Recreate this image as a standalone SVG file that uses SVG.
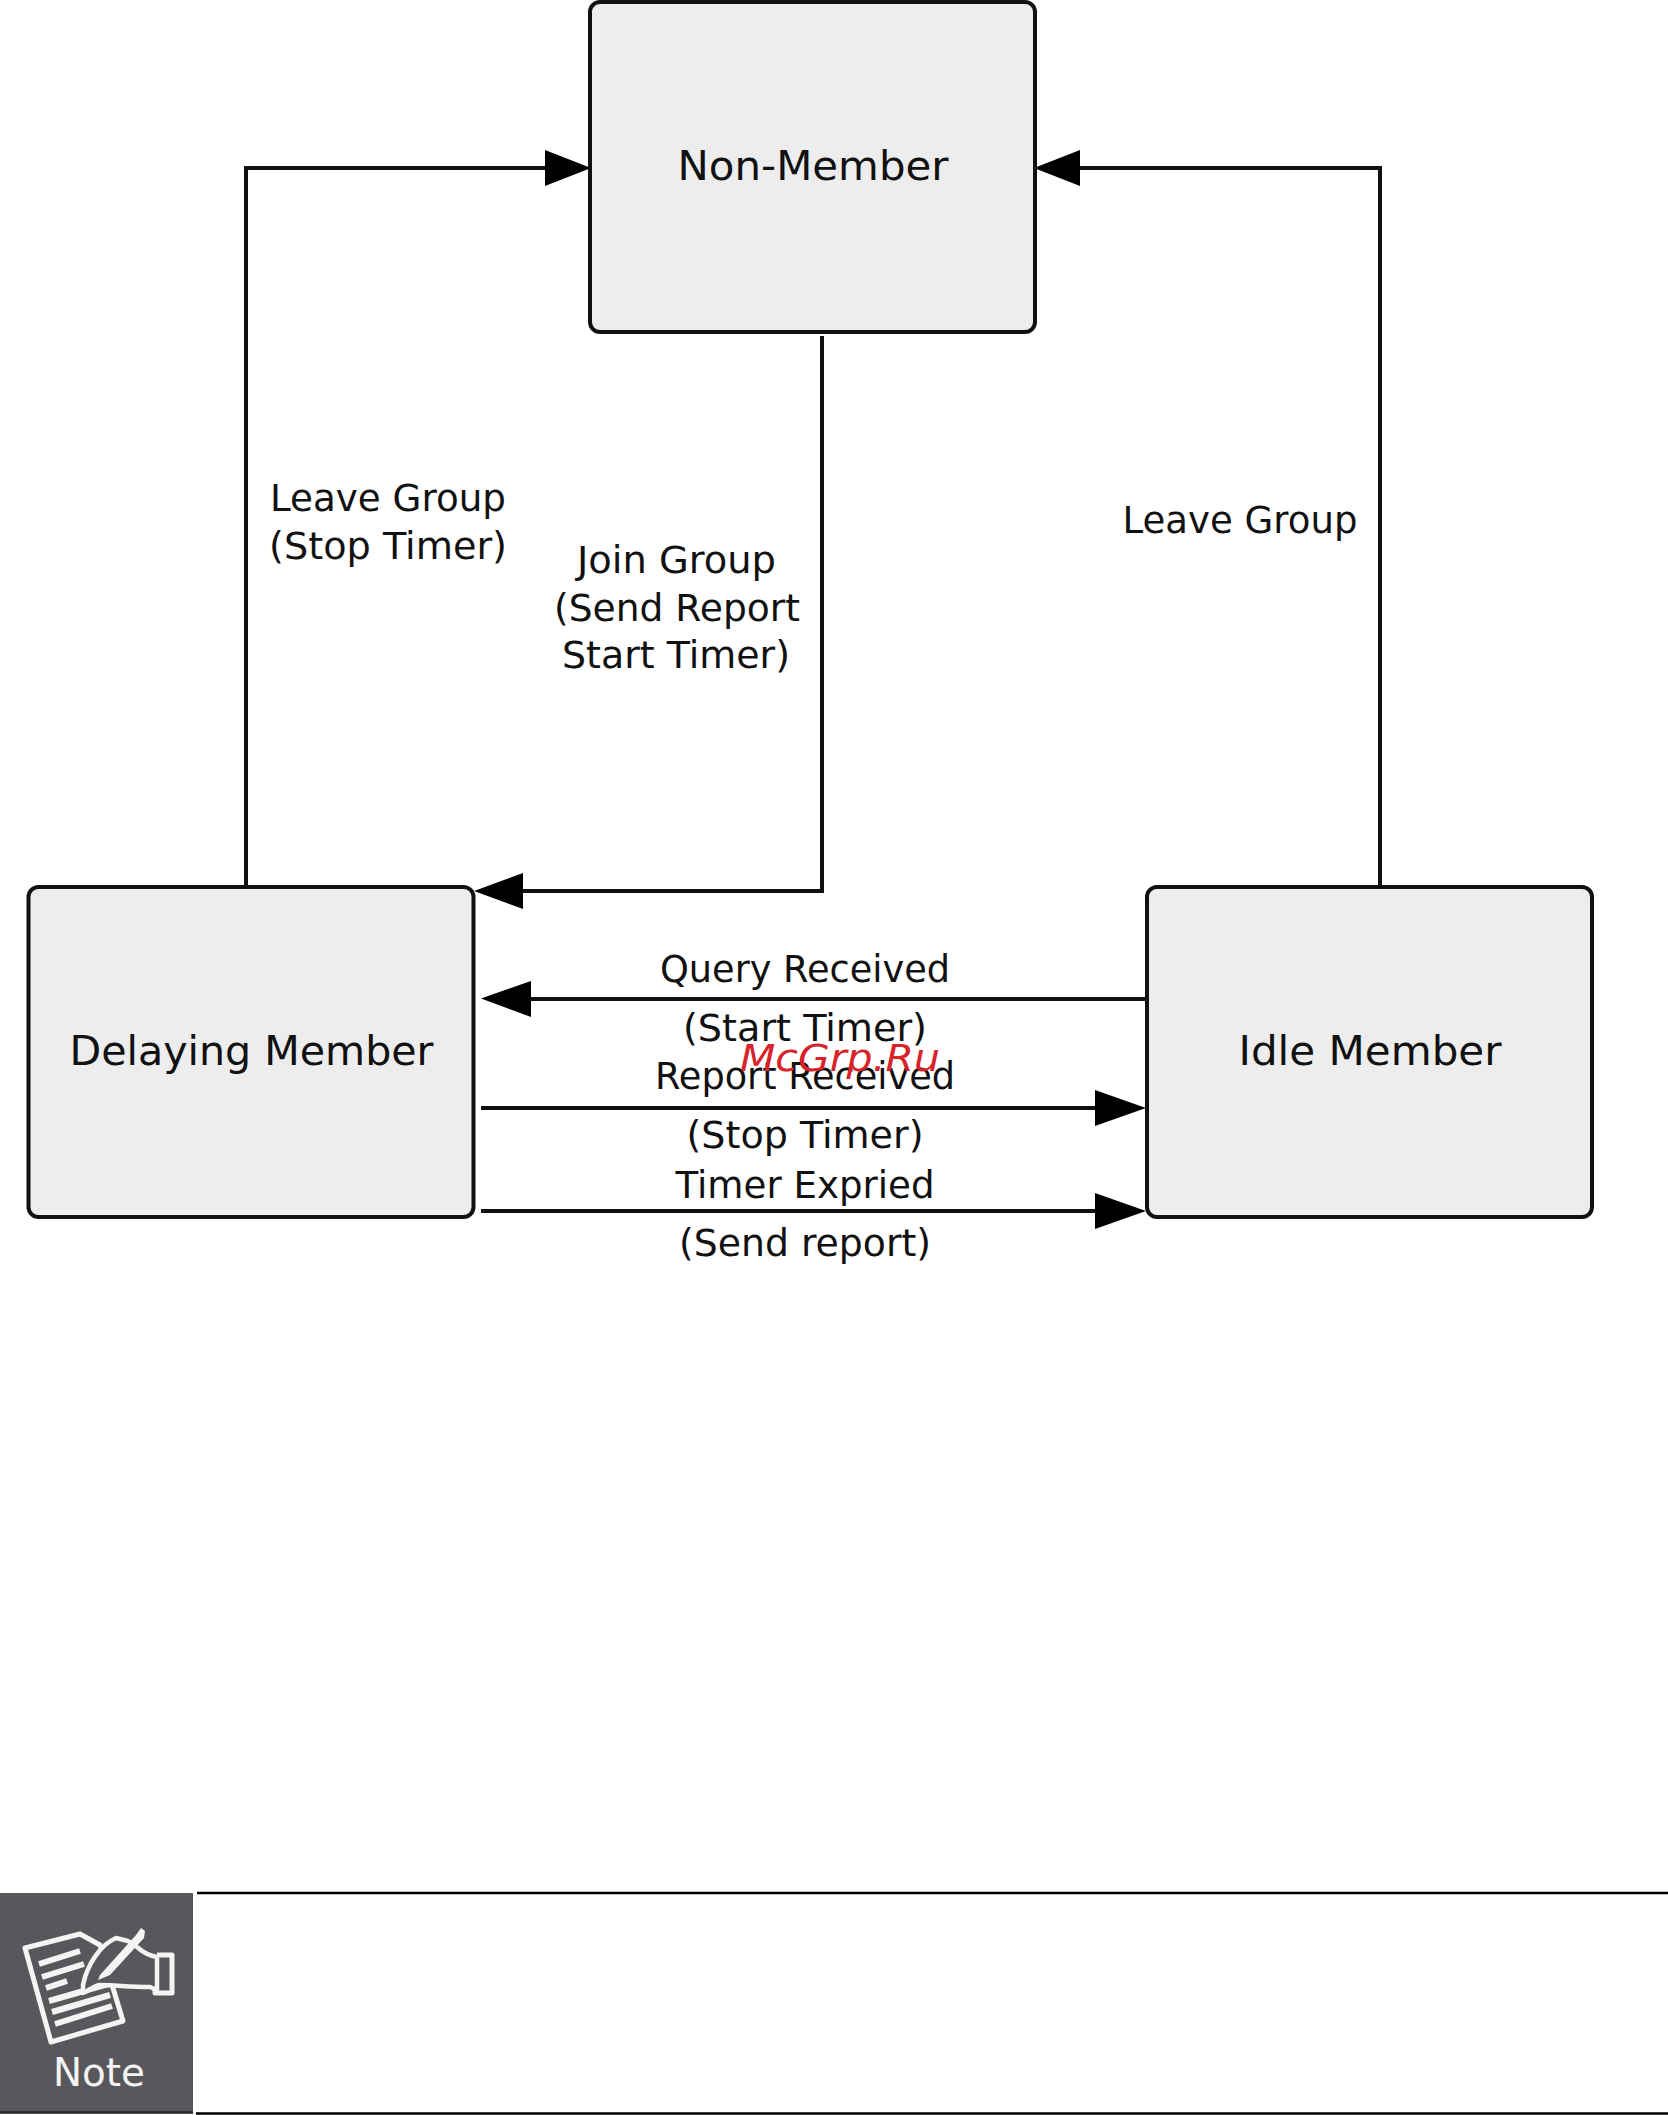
<svg xmlns="http://www.w3.org/2000/svg" width="1668" height="2115" viewBox="0 0 1668 2115">
<defs>
<style>
.box{fill:#ededed;stroke:#111;stroke-width:4}
.c{fill:none;stroke:#111;stroke-width:4}
.a{fill:#000}
text{font-family:"DejaVu Sans","Liberation Sans",sans-serif;fill:#111;text-anchor:middle}
.t{font-size:41px}
.l{font-size:36.500px}
.ic{fill:none;stroke:#f4f4f4;stroke-width:5;stroke-linejoin:round}
.ih{fill:#58585c;stroke:#f4f4f4;stroke-width:4.500;stroke-linejoin:round}
.if{fill:#f4f4f4}
</style>
</defs>
<rect width="1668" height="2115" fill="#fff"/>
<g id="connectors">
<path class="c" d="M246 886V168H545"/>
<path class="a" d="M545 150L591 168L545 186Z"/>
<path class="c" d="M1380 886V168H1080"/>
<path class="a" d="M1080 150L1034 168L1080 186Z"/>
<path class="c" d="M822 336V891H523"/>
<path class="a" d="M523 873L474 891L523 909Z"/>
<path class="c" d="M1146 999H531"/>
<path class="a" d="M531 981L481 998.500L531 1017Z"/>
<path class="c" d="M481 1108H1095"/>
<path class="a" d="M1095 1090L1146 1108L1095 1126Z"/>
<path class="c" d="M481 1211H1095"/>
<path class="a" d="M1095 1193L1146 1211L1095 1229Z"/>
</g>
<g id="non-member"><rect class="box" x="590" y="2" width="445" height="330" rx="10"/><text class="t" x="813" y="180" textLength="271" lengthAdjust="spacingAndGlyphs">Non-Member</text></g>
<g id="delaying-member"><rect class="box" x="28.500" y="887" width="445" height="330" rx="10"/><text class="t" x="251.500" y="1065" textLength="364" lengthAdjust="spacingAndGlyphs">Delaying Member</text></g>
<g id="idle-member"><rect class="box" x="1147" y="887" width="445" height="330" rx="10"/><text class="t" x="1370" y="1065" textLength="263" lengthAdjust="spacingAndGlyphs">Idle Member</text></g>
<g id="labels">
<text class="l" x="388" y="511" textLength="236" lengthAdjust="spacingAndGlyphs">Leave Group</text>
<text class="l" x="388" y="559" textLength="238" lengthAdjust="spacingAndGlyphs">(Stop Timer)</text>
<text class="l" x="676.500" y="573" textLength="199" lengthAdjust="spacingAndGlyphs">Join Group</text>
<text class="l" x="677" y="621" textLength="246" lengthAdjust="spacingAndGlyphs">(Send Report</text>
<text class="l" x="676" y="668" textLength="228" lengthAdjust="spacingAndGlyphs">Start Timer)</text>
<text class="l" x="1240" y="533" textLength="235" lengthAdjust="spacingAndGlyphs">Leave Group</text>
<text class="l" x="805" y="982" textLength="290" lengthAdjust="spacingAndGlyphs">Query Received</text>
<text class="l" x="805" y="1041" textLength="244" lengthAdjust="spacingAndGlyphs">(Start Timer)</text>
<text class="l" x="805" y="1089" textLength="300" lengthAdjust="spacingAndGlyphs">Report Received</text>
<text class="l" x="805" y="1148" textLength="237" lengthAdjust="spacingAndGlyphs">(Stop Timer)</text>
<text class="l" x="805" y="1198" textLength="259" lengthAdjust="spacingAndGlyphs">Timer Expried</text>
<text class="l" x="805" y="1256" textLength="252" lengthAdjust="spacingAndGlyphs">(Send report)</text>
<text x="840" y="1071" textLength="200" lengthAdjust="spacingAndGlyphs" style="font-style:italic;font-size:37px;fill:#d8232a">McGrp.Ru</text>
</g>
<g id="note">
<rect x="0" y="1893" width="193" height="220" fill="#58585c"/>
<path d="M0 2112.500H193" stroke="#26262a" stroke-width="2.500"/>
<path d="M197 1893H1668M196 2113.500H1668" fill="none" stroke="#000" stroke-width="2.500"/>
<path class="ic" d="M25 1948L80 1934L100 1945L123 2021L51 2042Z"/>
<path class="ic" d="M39 1964L80 1951M42 1977L84 1964M46 1988L67 1981M49 2001L108 1984M52 2012L110 1995M55 2024L112 2006" style="stroke-width:6"/>
<path class="ih" d="M83 1985C87 1965 100 1945 116 1938L128 1941L137 1947C145 1954 150 1956 157 1957V1990L150 1987C130 1987 115 1985 100 1985C95 1985 90 1990 83 1993Z"/>
<path class="if" d="M100 1975L136 1935L141 1928L145 1931L144 1938L110 1975L98 1980Z"/>
<path class="ic" d="M157 1955H172V1993H155V1987" style="stroke-width:5"/>
<text x="99" y="2086" style="font-size:39px;fill:#f4f4f4" textLength="92" lengthAdjust="spacingAndGlyphs">Note</text>
</g>
</svg>
